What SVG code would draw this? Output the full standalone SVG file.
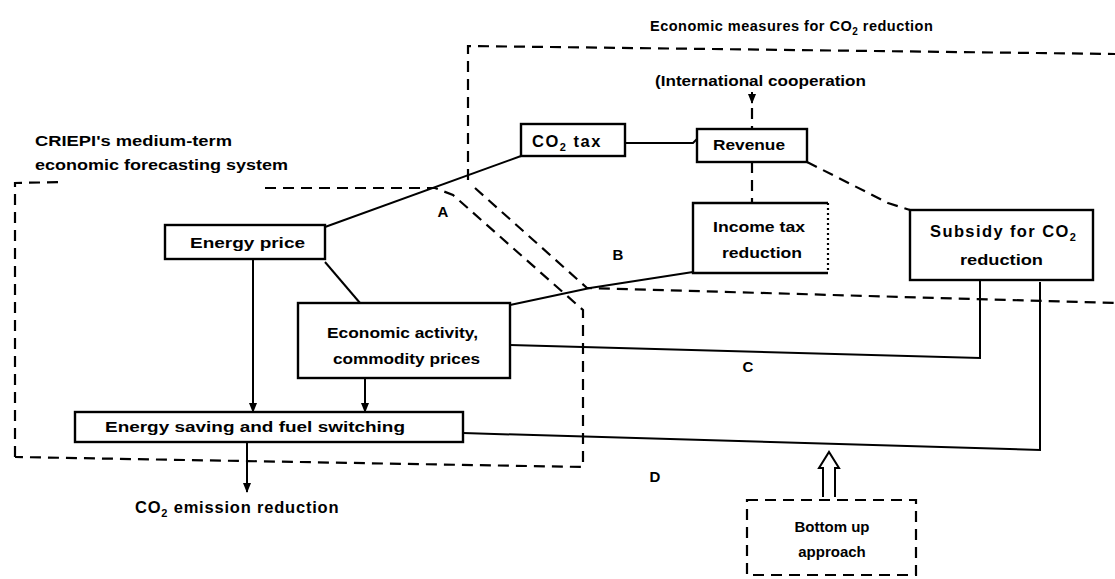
<svg xmlns="http://www.w3.org/2000/svg" width="1115" height="579" viewBox="0 0 1115 579">
<defs>
<style>
.t{font-family:"Liberation Sans",Arial,sans-serif;font-weight:bold;font-size:15px;fill:#000}
.b{font-size:16.5px}
.s{font-size:11px}
.box{fill:none;stroke:#000;stroke-width:2.4}
.ln{fill:none;stroke:#000;stroke-width:2}
.dash{fill:none;stroke:#000;stroke-width:2.2;stroke-dasharray:11 7}
.dot{fill:none;stroke:#000;stroke-width:2.2;stroke-dasharray:2 3}
</style>
<marker id="ah" viewBox="0 0 10 10" refX="9" refY="5" markerWidth="5" markerHeight="5" orient="auto">
<path d="M0,1 L10,5 L0,9 z" fill="#000"/>
</marker>
</defs>
<rect width="1115" height="579" fill="#fff"/>

<g id="regions">
<path class="dash" d="M15,457 L15,183 L65,182"/>
<path class="dash" d="M265,188 L435,188 L453,195 L583,310 L583,467 L15,457"/>
<path class="dash" d="M468,180 L468,46 L1115,54"/>
<path class="dash" d="M475,188 L587,288 L1115,303"/>
</g>

<g id="titles">
<text class="t" x="35" y="146" textLength="197" lengthAdjust="spacingAndGlyphs">CRIEPI's medium-term</text>
<text class="t" x="35" y="170" textLength="253" lengthAdjust="spacingAndGlyphs">economic forecasting system</text>
<text class="t" x="650" y="31" style="font-size:14.5px;letter-spacing:0.5px">Economic measures for CO<tspan style="font-size:10px" dy="4">2</tspan><tspan dy="-4"> reduction</tspan></text>
<text class="t" x="655" y="86" textLength="211" lengthAdjust="spacingAndGlyphs">(International cooperation</text>
</g>

<g id="connectors">
<path class="ln" d="M325,227 L521,156"/>
<path class="ln" d="M625,143 L693,143 L697,139"/>
<path class="ln" d="M752,92 L752,103" marker-end="url(#ah)"/>
<path class="dash" d="M752,108 L752,129"/>
<path class="dash" d="M752,162 L752,203"/>
<path class="dash" d="M807,162 L888,203 L910,210"/>
<path class="ln" d="M325,262 L360,303"/>
<path class="ln" d="M253,259 L253,412" marker-end="url(#ah)"/>
<path class="ln" d="M365,378 L365,412" marker-end="url(#ah)"/>
<path class="ln" d="M510,305 L590,288 L693,272"/>
<path class="ln" d="M510,345 L980,358 L980,281"/>
<path class="ln" d="M463,433 L1040,450 L1040,282"/>
<path class="ln" d="M247,442 L247,492" marker-end="url(#ah)"/>
<path class="ln" d="M823,497 L823,468 L819,468 L829,452 L839,468 L835,468 L835,497" fill="#fff"/>
</g>

<g id="labels">
<text class="t" x="443" y="217" text-anchor="middle">A</text>
<text class="t" x="618" y="260" text-anchor="middle">B</text>
<text class="t" x="748" y="372" text-anchor="middle">C</text>
<text class="t" x="655" y="482" text-anchor="middle">D</text>
</g>

<g id="co2tax">
<rect class="box" x="521" y="124" width="104" height="32"/>
<text class="t b" x="532" y="147" style="letter-spacing:1.5px">CO<tspan class="s" dy="4">2</tspan><tspan dy="-4"> tax</tspan></text>
</g>

<g id="revenue">
<rect class="box" x="697" y="129" width="110" height="33"/>
<text class="t" x="713" y="150" textLength="72" lengthAdjust="spacingAndGlyphs">Revenue</text>
</g>

<g id="incometax">
<path class="box" d="M828,203 L693,203 L693,273 L828,273"/>
<path class="dot" d="M828,203 L828,273"/>
<text class="t" x="713" y="232" textLength="92" lengthAdjust="spacingAndGlyphs">Income tax</text>
<text class="t" x="722" y="258" textLength="80" lengthAdjust="spacingAndGlyphs">reduction</text>
</g>

<g id="subsidy">
<rect class="box" x="910" y="210" width="183" height="70"/>
<text class="t b" x="930" y="237" style="letter-spacing:1.4px">Subsidy for CO<tspan class="s" dy="4">2</tspan></text>
<text class="t" x="960" y="265" textLength="83" lengthAdjust="spacingAndGlyphs">reduction</text>
</g>

<g id="energyprice">
<rect class="box" x="165" y="225" width="160" height="34"/>
<text class="t" x="190" y="248" textLength="115" lengthAdjust="spacingAndGlyphs">Energy price</text>
</g>

<g id="economic">
<rect class="box" x="298" y="303" width="212" height="75"/>
<text class="t" x="327" y="338" textLength="151" lengthAdjust="spacingAndGlyphs">Economic activity,</text>
<text class="t" x="333" y="364" textLength="147" lengthAdjust="spacingAndGlyphs">commodity prices</text>
</g>

<g id="energysaving">
<rect class="box" x="75" y="412" width="388" height="30"/>
<text class="t" x="105" y="432" textLength="300" lengthAdjust="spacingAndGlyphs">Energy saving and fuel switching</text>
</g>

<g id="emission">
<text class="t b" x="135" y="513" style="letter-spacing:0.8px">CO<tspan class="s" dy="4">2</tspan><tspan dy="-4"> emission reduction</tspan></text>
</g>

<g id="bottomup">
<rect class="dash" x="747" y="500" width="169" height="75"/>
<text class="t" x="832" y="532" text-anchor="middle">Bottom up</text>
<text class="t" x="832" y="557" text-anchor="middle">approach</text>
</g>
</svg>
